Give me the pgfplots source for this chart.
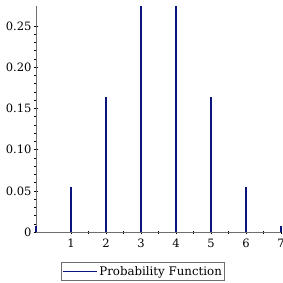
\documentclass[border=0pt]{standalone}
\usepackage{fontspec}
\setmainfont{DejaVu Serif}
\usepackage{pgfplots}
\pgfplotsset{compat=1.18}
\definecolor{barblue}{RGB}{10,20,125}
\definecolor{axgray}{RGB}{110,110,110}
\begin{document}
\begin{tikzpicture}
\begin{axis}[
  scale only axis, width=245pt, height=225.8pt,
  xmin=0, xmax=7, ymin=0, ymax=0.2734,
  axis lines=left, axis line style={axgray, line width=0.8pt, -},
  clip=false,
  xtick={1,2,3,4,5,6,7}, minor x tick num=1,
  ytick={0,0.05,0.10,0.15,0.20,0.25}, minor y tick num=4,
  yticklabels={0,0.05,0.10,0.15,0.20,0.25},
  tick align=center, major tick length=4pt, minor tick length=3pt,
  tick style={black, line width=0.6pt},
  font=\fontsize{11.5}{13}\selectfont,
  /pgf/number format/assume math mode=true,
  xticklabel style={yshift=-1pt},
  yticklabel style={xshift=1pt},
  legend style={at={(axis description cs:0.4367,-0.1735)}, anchor=center,
    draw=axgray, line width=0.8pt, inner xsep=1pt, inner ysep=1.5pt,
    font=\fontsize{11.8}{13}\selectfont},
  legend cell align=left,
  legend image code/.code={\draw[barblue, line width=1.2pt] (0pt,0pt) -- (34pt,0pt);},
]
\addplot[ycomb, barblue, line width=2.6pt] coordinates {
  (0,0.0078) (1,0.0547) (2,0.1641) (3,0.2734) (4,0.2734) (5,0.1641) (6,0.0547) (7,0.0078)
};
\addlegendentry{Probability Function}
\end{axis}
\pgfresetboundingbox
\useasboundingbox (-36pt,-50.7pt) rectangle (247pt,232.3pt);
\end{tikzpicture}
\end{document}
